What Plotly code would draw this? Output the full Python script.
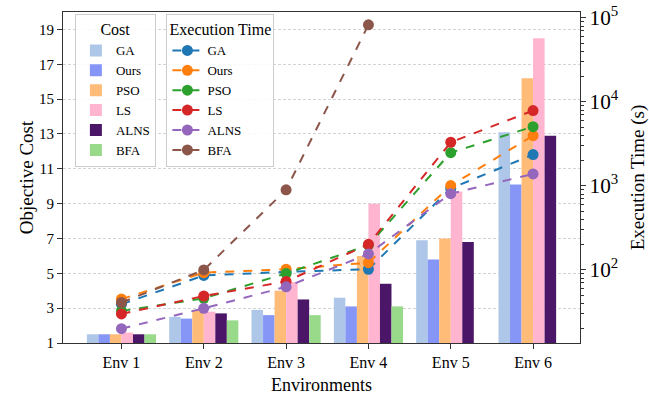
import plotly.graph_objects as go

envs = ["Env 1", "Env 2", "Env 3", "Env 4", "Env 5", "Env 6"]
methods = ["GA", "Ours", "PSO", "LS", "ALNS", "BFA"]

# Objective cost per method (bars, left axis)
cost_ga = [1.5, 2.5, 2.9, 3.6, 6.9, 13.1]
cost_ours = [1.5, 2.4, 2.6, 3.1, 5.8, 10.1]
cost_pso = [1.5, 2.9, 4.0, 6.0, 7.0, 16.2]
cost_ls = [1.6, 2.8, 4.5, 9.0, 9.7, 18.5]
cost_alns = [1.5, 2.7, 3.5, 4.4, 6.8, 12.9]
cost_bfa = [1.5, 2.3, 2.6, 3.1, None, None]

# Execution time in seconds (dashed lines, right log axis)
time_ga = [39, 86, 95, 102, 935, 2360]
time_ours = [45, 93, 102, 122, 1010, 3970]
time_pso = [32.5, 46, 91, 197, 2490, 5080]
time_ls = [30, 49, 73, 202, 3310, 7890]
time_alns = [20, 35, 63, 155, 810, 1390]
time_bfa = [41, 100, 900, 82600, None, None]

left_ticks = [1, 3, 5, 7, 9, 11, 13, 15, 17, 19]

costs = [cost_ga, cost_ours, cost_pso, cost_ls, cost_alns, cost_bfa]
times = [time_ga, time_ours, time_pso, time_ls, time_alns, time_bfa]
bar_colors = ["#aec7e8", "#8696f6", "#ffbb78", "#ffb5d0", "#4b1668", "#98d98a"]
line_colors = ["#1f77b4", "#ff7f0e", "#2ca02c", "#d62728", "#9467bd", "#8c564b"]

FONT = "'Liberation Serif', 'Times New Roman', 'DejaVu Serif', serif"
xs = list(range(len(envs)))

fig = go.Figure()
for name, vals, col in zip(methods, costs, bar_colors):
    fig.add_trace(go.Bar(
        x=xs, y=[None if v is None else v - 1 for v in vals], base=1,
        name=name, marker=dict(color=col, line=dict(width=0)),
        legend="legend", yaxis="y", hoverinfo="skip",
    ))
for name, vals, col in zip(methods, times, line_colors):
    fig.add_trace(go.Scatter(
        x=xs, y=vals, name=name, mode="lines+markers",
        line=dict(color=col, width=2, dash="dash"),
        marker=dict(color=col, size=11),
        legend="legend2", yaxis="y2", connectgaps=False,
    ))

axis_line = dict(showline=True, linecolor="#333333", linewidth=1.2, automargin=False)
fig.update_layout(
    width=649, height=397,
    margin=dict(l=63, r=69, t=12, b=54),
    paper_bgcolor="white", plot_bgcolor="white",
    font=dict(family=FONT, size=16, color="black"),
    barmode="group", bargap=0.16, bargroupgap=0,
    xaxis=dict(
        range=[-0.71, 5.57], tickmode="array", tickvals=xs, ticktext=envs,
        ticks="outside", ticklen=5, tickcolor="#333333", mirror=True,
        showgrid=False, zeroline=False, tickfont=dict(size=16),
        title=dict(text="Environments", font=dict(size=18), standoff=8),
        **axis_line,
    ),
    yaxis=dict(
        range=[1, 20], tickmode="array", tickvals=left_ticks,
        ticks="outside", ticklen=5, tickcolor="#333333", tickfont=dict(size=15),
        showgrid=True, gridcolor="#d3d3d3", griddash="3px,2px", gridwidth=1,
        zeroline=False,
        title=dict(text="Objective Cost", font=dict(size=19), standoff=0),
        **axis_line,
    ),
    yaxis2=dict(
        type="log", range=[1.131, 5.07], overlaying="y", side="right",
        dtick=1, exponentformat="power", showexponent="all",
        ticks="outside", ticklen=5, tickcolor="#333333", tickfont=dict(size=17),
        minor=dict(ticks="outside", ticklen=3, tickcolor="#333333", dtick="D1", showgrid=False),
        showgrid=False, zeroline=False,
        title=dict(text="Execution Time (s)", font=dict(size=19), standoff=15),
        **axis_line,
    ),
    legend=dict(
        x=0.023, y=0.995, xanchor="left", yanchor="top",
        bgcolor="rgba(255,255,255,0.85)", bordercolor="#cccccc", borderwidth=1,
        title=dict(text="Cost", side="top center", font=dict(size=16)),
        font=dict(size=13), tracegroupgap=0, itemwidth=30,
    ),
    legend2=dict(
        x=0.2, y=0.995, xanchor="left", yanchor="top",
        bgcolor="rgba(255,255,255,0.85)", bordercolor="#cccccc", borderwidth=1,
        title=dict(text="Execution Time", side="top center", font=dict(size=16)),
        font=dict(size=13), tracegroupgap=0, itemwidth=30,
    ),
)

fig.write_html("out.html")
